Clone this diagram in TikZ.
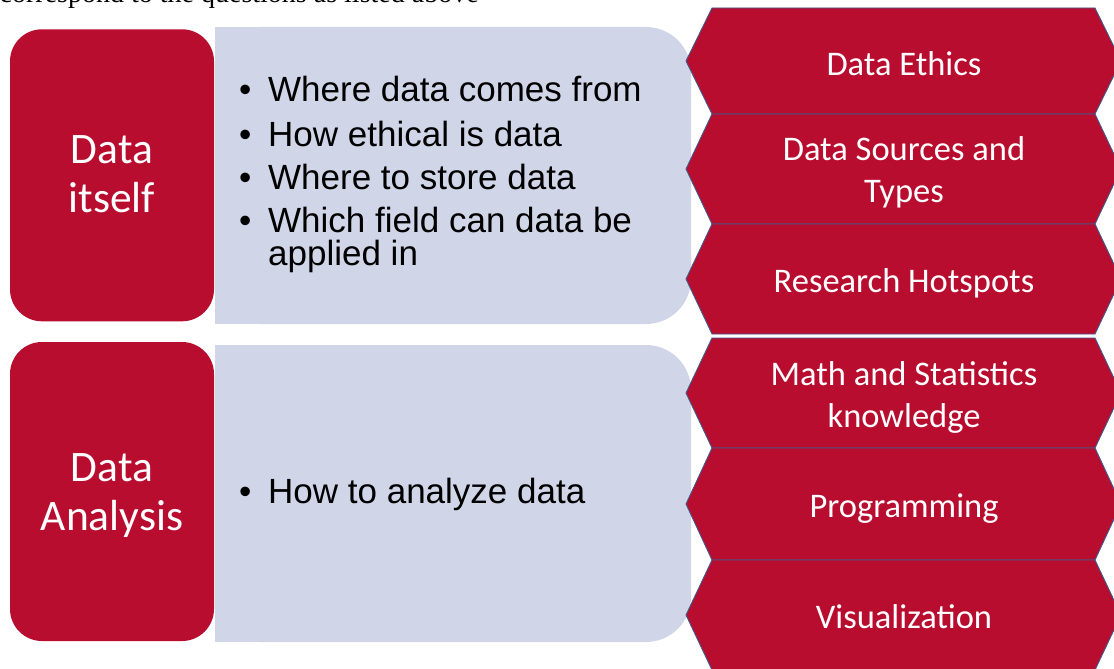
\documentclass[tikz,border=0pt]{standalone}
\usepackage{fontspec}
\newfontfamily\calfont{Carlito}
\newfontfamily\arialfont{Liberation Sans}
\newfontfamily\seriffont{Liberation Serif}
\definecolor{dred}{HTML}{B80D2F}
\definecolor{lblue}{HTML}{D0D6E8}
\definecolor{hexline}{HTML}{41598C}
\tikzset{
  redbox/.style={fill=dred, draw=none, rounded corners=32pt, inner sep=0pt, minimum width=204pt},
  redtxt/.style={text=white, font=\calfont\fontsize{43.5}{49}\selectfont, align=center, anchor=base, inner sep=0pt},
  hextxt/.style={text=white, font=\calfont\fontsize{34.5}{42}\selectfont, align=center, anchor=base, inner sep=0pt},
  hexshape/.style={fill=dred, draw=hexline, line width=0.9pt, line join=miter},
  bultxt/.style={font=\arialfont\fontsize{35}{33}\selectfont, align=left, anchor=base west, inner sep=0pt},
}
\begin{document}
\begin{tikzpicture}[x=1pt,y=-1pt]
\useasboundingbox (0,0) rectangle (1114,669);
\clip (0,0) rectangle (1114,669);
\fill[white] (0,0) rectangle (1114,669);

% cut-off caption line at the top
\node[font=\seriffont\fontsize{28}{30}\selectfont, anchor=base west, inner sep=0pt] (cap) at (-0.5,3) {correspond to the questions as listed above};

% light blue panels
\fill[lblue, rounded corners=45pt] (215,27) rectangle (691,324);
\fill[lblue] (215,27) rectangle (500,324);
\fill[lblue, rounded corners=45pt] (215,345) rectangle (691,642);
\fill[lblue] (215,345) rectangle (500,642);

% red boxes
\node[redbox, minimum height=292pt] (r1) at (112,175.3) {};
\node[redbox, minimum height=299pt] (r2) at (112,491.5) {};
\node[redtxt] (r1t) at (112,212) {Data\\itself};
\node[redtxt] (r2t) at (112,530) {Data\\Analysis};

% bullets
\node[bultxt] (b1) at (239,101.7) {•};
\node[bultxt] (t1) at (268,101.7) {Where data comes from};
\node[bultxt] (b2) at (239,146) {•};
\node[bultxt] (t2) at (268,146) {How ethical is data};
\node[bultxt] (b3) at (239,189) {•};
\node[bultxt] (t3) at (268,189) {Where to store data};
\node[bultxt] (b4) at (239,232.5) {•};
\node[bultxt] (t4) at (268,265.5) {Which field can data be\\applied in};
\node[bultxt] (b5) at (239,503.5) {•};
\node[bultxt] (t5) at (268,503.5) {How to analyze data};

% hexagons
\draw[hexshape] (686,61) -- (712,8) -- (1095,8) -- (1121,61) -- (1095,114) -- (712,114) -- cycle;
\draw[hexshape] (686,169) -- (712,114) -- (1095,114) -- (1121,169) -- (1095,224) -- (712,224) -- cycle;
\draw[hexshape] (686,279) -- (712,224) -- (1095,224) -- (1121,279) -- (1095,334) -- (712,334) -- cycle;
\draw[hexshape] (686,393) -- (712,338) -- (1095,338) -- (1121,393) -- (1095,448) -- (712,448) -- cycle;
\draw[hexshape] (686,504) -- (712,448) -- (1095,448) -- (1121,504) -- (1095,560) -- (712,560) -- cycle;
\draw[hexshape] (686,615) -- (712,560) -- (1095,560) -- (1121,615) -- (1095,670) -- (712,670) -- cycle;

\node[hextxt] (h1) at (904,76) {Data Ethics};
\node[hextxt] (h2) at (904,202) {Data Sources and\\Types};
\node[hextxt] (h3) at (904,292) {Research Hotspots};
\node[hextxt] (h4) at (904,427) {Math and Statistics\\knowledge};
\node[hextxt] (h5) at (904,517) {Programming};
\node[hextxt] (h6) at (904,628) {Visualization};
\end{tikzpicture}
\end{document}
